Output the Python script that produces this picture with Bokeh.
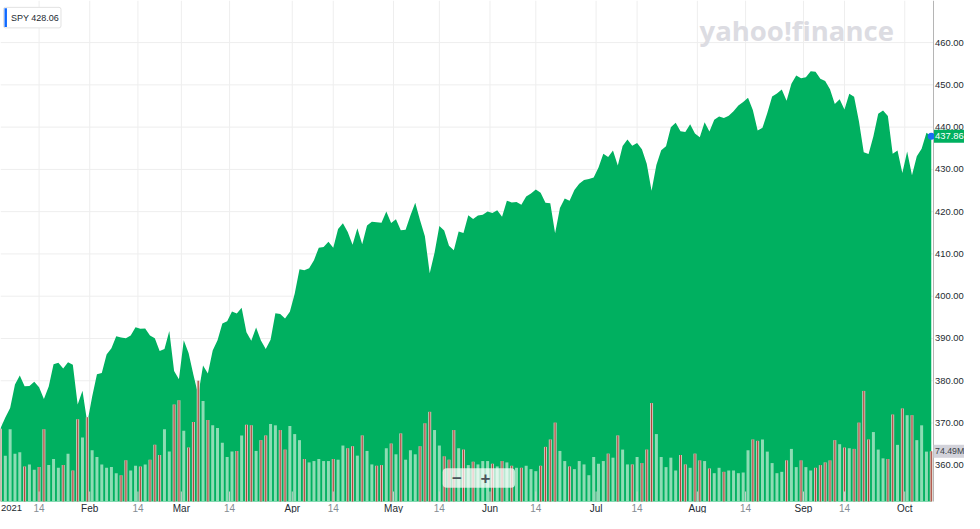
import pandas as pd
from bokeh.plotting import figure
from bokeh.models import Range1d, Label, BoxAnnotation, ColumnDataSource
from bokeh.core.properties import value
from bokeh.embed import file_html
from bokeh.resources import INLINE

# ---------------- data ----------------
ticker_name = "SPY"
legend_value = "428.06"
start_date, end_date = "2021-01-04", "2021-10-08"
holidays = ["2021-01-18", "2021-02-15", "2021-04-02", "2021-05-31",
            "2021-07-05", "2021-09-06"]
prev_close = 373.88

close_jan = [368.79, 371.33, 373.55, 379.10, 381.26, 378.69, 378.77, 379.79, 378.46, 375.70,
             378.65, 383.89, 384.24, 382.88, 384.39, 383.79, 374.41, 377.63, 370.07]
close_feb = [376.23, 381.55, 381.85, 386.19, 387.71, 390.51, 390.25, 390.08, 390.71, 392.64,
             392.30, 392.39, 390.72, 390.03, 387.03, 387.50, 391.77, 382.33, 380.36]
close_mar = [389.58, 386.54, 381.42, 376.70, 383.63, 381.72, 387.17, 389.58, 393.53, 394.06,
             396.41, 395.91, 397.26, 391.48, 389.48, 392.59, 389.50, 387.52, 389.70, 395.98,
             395.78, 394.73, 396.33]
close_apr = [400.61, 406.36, 406.12, 406.59, 408.52, 411.49, 411.64, 412.86, 411.45, 415.87,
             417.26, 415.21, 412.17, 416.07, 412.27, 416.74, 417.61, 417.52, 417.40, 420.06,
             417.30]
close_may = [418.20, 415.62, 415.75, 419.07, 422.12, 417.94, 414.21, 405.41, 410.28, 416.58,
             415.52, 411.94, 410.86, 415.28, 414.94, 419.17, 418.24, 419.07, 419.29, 420.04]
close_jun = [419.67, 420.33, 418.77, 422.60, 422.19, 422.28, 421.65, 423.61, 424.31, 425.26,
             424.48, 422.11, 421.97, 414.92, 420.86, 423.11, 422.60, 425.10, 426.61, 427.47,
             427.70, 428.06]
close_jul = [430.43, 433.72, 432.93, 434.46, 430.92, 435.52, 437.08, 435.59, 436.24, 434.75,
             431.34, 424.97, 431.06, 434.55, 435.46, 439.94, 441.02, 439.01, 438.83, 440.65,
             438.51]
close_aug = [437.59, 441.15, 438.98, 441.76, 442.49, 442.13, 442.68, 443.78, 445.11, 445.92,
             446.97, 444.04, 439.18, 439.86, 443.36, 447.26, 447.97, 448.91, 446.26, 450.25,
             452.23, 451.56]
close_sep = [451.80, 453.19, 453.08, 451.46, 450.91, 448.98, 445.44, 446.58, 444.17, 447.88,
             447.17, 441.40, 434.04, 433.63, 437.86, 443.18, 443.91, 442.64, 433.72, 434.45,
             429.14]
close_oct = [434.24, 428.64, 433.10, 434.90, 438.66, 437.86]

# volume in millions of shares
vol_jan = [108, 68, 107, 71, 73, 52, 55, 47, 51, 107, 54, 63, 50, 54, 71, 46, 122, 95, 125]
vol_feb = [76, 66, 55, 50, 51, 42, 39, 61, 46, 53, 52, 55, 62, 84, 69, 107, 74, 144, 150]
vol_mar = [105, 80, 118, 179, 149, 121, 113, 109, 87, 66, 74, 75, 98, 114, 113, 75, 91, 98,
           115, 113, 106, 77, 112]
vol_apr = [100, 91, 63, 58, 60, 63, 60, 60, 63, 62, 83, 79, 82, 68, 98, 75, 55, 53, 54, 79, 86]
vol_may = [70, 101, 62, 76, 70, 82, 116, 133, 106, 83, 67, 62, 106, 79, 77, 54, 59, 55, 60, 60]
vol_jun = [56, 52, 60, 58, 53, 50, 50, 53, 48, 45, 53, 81, 92, 117, 75, 60, 52, 48, 60, 55,
           39, 66]
vol_jul = [56, 60, 71, 65, 98, 77, 55, 55, 66, 57, 77, 146, 100, 66, 51, 65, 46, 69, 55, 50, 71]
vol_aug = [61, 60, 49, 42, 50, 44, 46, 46, 42, 43, 76, 92, 90, 92, 74, 57, 42, 44, 61, 78,
           51, 61]
vol_sep = [51, 46, 50, 54, 58, 61, 91, 85, 80, 79, 78, 117, 164, 92, 103, 77, 64, 63, 129,
           84, 138]
vol_oct = [128, 128, 91, 113, 74, 74.49]

month_labels = ["2021", "Feb", "Mar", "Apr", "May", "Jun", "Jul", "Aug", "Sep", "Oct"]
mid_label = "14"
price_ticks = [360, 370, 380, 390, 400, 410, 420, 430, 440, 450, 460]

closes = (close_jan + close_feb + close_mar + close_apr + close_may + close_jun +
          close_jul + close_aug + close_sep + close_oct)
volumes = (vol_jan + vol_feb + vol_mar + vol_apr + vol_may + vol_jun +
           vol_jul + vol_aug + vol_sep + vol_oct)
dates = [d for d in pd.bdate_range(start_date, end_date)
         if d.strftime("%Y-%m-%d") not in holidays]
n = len(dates)
assert n == len(closes) == len(volumes)
idx = list(range(n))
prevs = [prev_close] + closes[:-1]
is_down = [c < pc for c, pc in zip(closes, prevs)]

# ticks from the calendar
month_pos = []
for m in range(1, 11):
    first = next(i for i, d in enumerate(dates) if d.month == m)
    month_pos.append(first - 0.5)
mid_pos = []
for m in range(1, 10):
    target = pd.Timestamp(2021, m, 14)
    first = next(i for i, d in enumerate(dates) if d >= target)
    mid_pos.append(first if dates[first] == target else first - 0.5)

# ---------------- style / layout ----------------
GREEN = "#00b060"
UP_BAR = "#8ddcb4"
DOWN_EDGE = "#d3cdc3"
DOWN_CORE = "#b0473c"
GRID = "#eeeeee"
FONT = "Liberation Sans"
DARK = "#232a31"
GREY_TXT = "#858c93"

W, H = 964, 513                 # figure size in pixels
CHART_R, CHART_B = 933.0, 501.0  # right / bottom edge of the plotting area (figure px)
SX = CHART_R / 941.0            # reference-pixel -> figure-pixel factors
SY = CHART_B / 512.0
DAY_PX = 4.864 * SX             # pixels per trading day
UNIT_PX = 4.32 * SY             # pixels per price unit
Y460 = 43.0 * SY                # pixel row of the 460 gridline
MVOL_PX = 0.689 * SY            # pixels per million shares


def fx(px):   # figure px -> data x
    return px / DAY_PX


def fy(py):   # figure px -> price
    return 460.0 - (py - Y460) / UNIT_PX


def fv(py):   # figure px -> volume (M)
    return (CHART_B - py) / MVOL_PX


def rx(r):    # reference px -> data x
    return fx(r * SX)


def ry(r):    # reference px -> price
    return fy(r * SY)


p = figure(width=W, height=H,
           x_range=Range1d(fx(0), fx(W)), y_range=Range1d(fy(H), fy(0)),
           x_axis_location=None, y_axis_location=None,
           output_backend="svg", toolbar_location=None, min_border=0,
           background_fill_color="white", border_fill_color="white",
           outline_line_color=None)
p.extra_y_ranges = {"vol": Range1d(fv(H), fv(0))}
p.xgrid.visible = False
p.ygrid.visible = False

xticks = month_pos[1:] + mid_pos

# grid lines
p.segment(x0=[fx(0)] * len(price_ticks), x1=[fx(CHART_R)] * len(price_ticks),
          y0=price_ticks, y1=price_ticks, line_color=GRID, line_width=1)
p.segment(x0=xticks, x1=xticks, y0=[fy(0)] * len(xticks),
          y1=[fy(CHART_B)] * len(xticks), line_color=GRID, line_width=1)

# price area
p.varea(x=idx, y1=[fy(CHART_B)] * n, y2=closes, fill_color=GREEN)

# volume bars
vsrc = ColumnDataSource(dict(x=idx, v=volumes,
                             c=[DOWN_EDGE if dn else UP_BAR for dn in is_down]))
p.vbar(x="x", top="v", bottom=0, width=0.62, fill_color="c", line_color=None,
       source=vsrc, y_range_name="vol")
dsrc = ColumnDataSource(dict(x=[i for i in idx if is_down[i]],
                             v=[volumes[i] for i in idx if is_down[i]]))
p.vbar(x="x", top="v", bottom=0, width=0.24, fill_color=DOWN_CORE, line_color=None,
       source=dsrc, y_range_name="vol")

# tick marks at the bottom
p.segment(x0=xticks, x1=xticks, y0=[fy(CHART_B - 10)] * len(xticks),
          y1=[fy(CHART_B)] * len(xticks), line_color="#cdd2cf", line_width=1)

# right axis line
p.segment(x0=[fx(CHART_R)], x1=[fx(CHART_R)], y0=[fy(0)], y1=[fy(CHART_B)],
          line_color="#b5b5b5", line_width=1)

# last point dot
p.scatter(x=[idx[-1]], y=[closes[-1]], size=7, fill_color="#1a6cf0", line_color=None)

# price axis labels
LBL_X = fx(CHART_R + 1.5)
p.text(x=[LBL_X] * len(price_ticks), y=price_ticks,
       text=[f"{t:.2f}" for t in price_ticks],
       text_font=value(FONT), text_font_size="9.4px", text_color=DARK,
       text_align="left", text_baseline="middle")

# date labels
DATE_Y = fy(507.5)
p.text(x=month_pos[1:], y=[DATE_Y] * (len(month_pos) - 1), text=month_labels[1:],
       text_font=value(FONT), text_font_size="10px", text_color=DARK,
       text_align="center", text_baseline="middle")
p.text(x=mid_pos, y=[DATE_Y] * len(mid_pos), text=[mid_label] * len(mid_pos),
       text_font=value(FONT), text_font_size="10px", text_color=GREY_TXT,
       text_align="center", text_baseline="middle")
p.text(x=[fx(0.5)], y=[DATE_Y], text=[month_labels[0]],
       text_font=value(FONT), text_font_size="9.5px", text_color=DARK,
       text_align="left", text_baseline="middle")

# logo
p.add_layout(Label(x=rx(705), y=ry(31), text="yahoo!finance", text_align="left",
                   text_baseline="alphabetic", text_font="Open Sans", text_font_style="bold",
                   text_font_size="27.5px", text_color="#dcdce2"))

# top-left legend
p.add_layout(BoxAnnotation(left=rx(3), right=rx(61), top=ry(7), bottom=ry(28),
                           fill_color="white", fill_alpha=1, line_color="#e2e2e2",
                           line_alpha=1, line_width=1, border_radius=2))
p.add_layout(BoxAnnotation(left=rx(4), right=rx(6.5), top=ry(8), bottom=ry(27),
                           fill_color="#0f69ff", fill_alpha=1, line_color=None))
p.add_layout(Label(x=rx(10.5), y=ry(17.5), text=f"{ticker_name} {legend_value}",
                   text_align="left", text_baseline="middle", text_font=FONT,
                   text_font_size="9px", text_color=DARK))

# current price tag
TAG_H = 6.5
p.add_layout(BoxAnnotation(left=fx(CHART_R + 0.5), right=fx(W), top=closes[-1] + TAG_H / UNIT_PX,
                           bottom=closes[-1] - TAG_H / UNIT_PX,
                           fill_color=GREEN, fill_alpha=1, line_color=None))
p.add_layout(Label(x=LBL_X, y=closes[-1], text=f"{closes[-1]:.2f}", text_align="left",
                   text_baseline="middle", text_font=FONT, text_font_size="9.4px",
                   text_color="white"))
# volume tag
p.add_layout(BoxAnnotation(left=fx(CHART_R), right=fx(W), y_range_name="vol",
                           top=volumes[-1] + TAG_H / MVOL_PX,
                           bottom=volumes[-1] - TAG_H / MVOL_PX,
                           fill_color="#d0d0d8", fill_alpha=0.95, line_color=None))
p.add_layout(Label(x=LBL_X, y=volumes[-1], y_range_name="vol",
                   text=f"{volumes[-1]:.2f}M", text_align="left", text_baseline="middle",
                   text_font=FONT, text_font_size="8.8px", text_color="#3a3f45"))

# zoom control
p.add_layout(BoxAnnotation(left=rx(446), right=rx(519), top=ry(478), bottom=ry(498),
                           fill_color="white", fill_alpha=0.72, line_color=None,
                           border_radius=4))
p.add_layout(Label(x=rx(460.5), y=ry(488), text="\u2212", text_align="center",
                   text_baseline="middle", text_font=FONT, text_font_style="bold",
                   text_font_size="17px", text_color="#4a5259"))
p.add_layout(Label(x=rx(489), y=ry(488), text="+", text_align="center",
                   text_baseline="middle", text_font=FONT, text_font_style="bold",
                   text_font_size="17px", text_color="#4a5259"))

open("out.html", "w").write(file_html(p, INLINE))
